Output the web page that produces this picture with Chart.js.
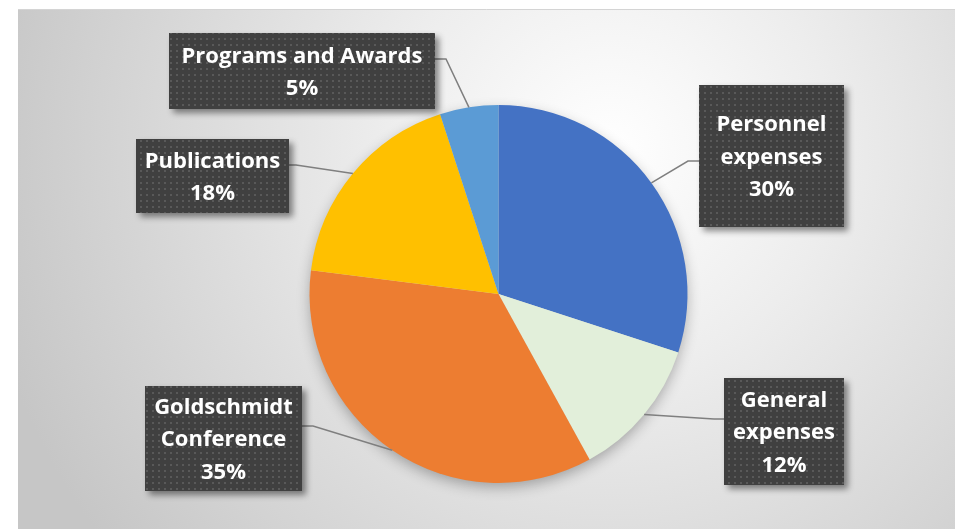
<!DOCTYPE html>
<html lang="en">
<head>
    <meta charset="UTF-8">
    <title>Budget breakdown</title>
    <script src="https://cdn.jsdelivr.net/npm/chart.js"></script>
    <style>
        body { margin: 0; background: #fff; }
        canvas { display: block; }
    </style>
</head>
<body>
    <canvas id="pieChart" width="955" height="529"></canvas>

    <script>
        // Chart data
        const categories = ['Personnel expenses', 'General expenses', 'Goldschmidt Conference', 'Publications', 'Programs and Awards'];
        const shares = [30, 12, 35, 18, 5];
        const sliceColors = ['#4472C4', '#E2EFDA', '#ED7D31', '#FFC000', '#5B9BD5'];
        // how each category name is wrapped inside its label box
        const labelLines = [['Personnel', 'expenses'], ['General', 'expenses'], ['Goldschmidt', 'Conference'], ['Publications'], ['Programs and Awards']];

        // label box layout (same order as categories)
        const boxLayout = [
            { x: 699, y: 85, w: 145, h: 142, lineY: 161, elbowX: 688, side: 'left' },
            { x: 724, y: 378, w: 120, h: 107, lineY: 419, elbowX: 714, side: 'left' },
            { x: 145, y: 386, w: 157, h: 105, lineY: 426, elbowX: 313, side: 'right' },
            { x: 136, y: 139, w: 153, h: 74, lineY: 165, elbowX: 296, side: 'right' },
            { x: 169, y: 33, w: 266, h: 76, lineY: 59, elbowX: 446, side: 'right' }
        ];

        // dotted dark fill used by the label boxes
        function makePattern(ctx) {
            const tile = document.createElement('canvas');
            tile.width = 6;
            tile.height = 6;
            const t = tile.getContext('2d');
            t.fillStyle = '#404040';
            t.fillRect(0, 0, 6, 6);
            t.fillStyle = '#595959';
            t.fillRect(2, 2, 2, 2);
            return ctx.createPattern(tile, 'repeat');
        }

        const backgroundPlugin = {
            id: 'panelBackground',
            beforeDraw(chart) {
                const ctx = chart.ctx;
                ctx.save();
                const g = ctx.createRadialGradient(610, 150, 0, 610, 150, 640);
                g.addColorStop(0, '#ffffff');
                g.addColorStop(0.35, '#ededed');
                g.addColorStop(1, '#c6c6c6');
                ctx.fillStyle = g;
                ctx.fillRect(18, 9, chart.width - 18, chart.height - 9);
                ctx.strokeStyle = '#d4d4d4';
                ctx.lineWidth = 1;
                ctx.beginPath();
                ctx.moveTo(18, 9.5);
                ctx.lineTo(chart.width, 9.5);
                ctx.stroke();
                ctx.restore();
            },
            beforeDatasetsDraw(chart) {
                // soft shadow under the pie
                const arc = chart.getDatasetMeta(0).data[0];
                if (!arc) return;
                const ctx = chart.ctx;
                ctx.save();
                ctx.shadowColor = 'rgba(0,0,0,0.3)';
                ctx.shadowBlur = 14;
                ctx.shadowOffsetY = 5;
                ctx.fillStyle = '#d0d0d0';
                ctx.beginPath();
                ctx.arc(arc.x, arc.y, arc.outerRadius - 1, 0, Math.PI * 2);
                ctx.fill();
                ctx.restore();
            }
        };

        const calloutPlugin = {
            id: 'callouts',
            afterDatasetsDraw(chart) {
                const ctx = chart.ctx;
                const meta = chart.getDatasetMeta(0);
                const pattern = makePattern(ctx);
                const total = shares.reduce((a, b) => a + b, 0);

                meta.data.forEach((arc, i) => {
                    const box = boxLayout[i];
                    const p = arc.getProps(['x', 'y', 'startAngle', 'endAngle', 'outerRadius'], true);
                    const mid = (p.startAngle + p.endAngle) / 2;
                    const ax = p.x + Math.cos(mid) * p.outerRadius;
                    const ay = p.y + Math.sin(mid) * p.outerRadius;
                    const edgeX = box.side === 'left' ? box.x : box.x + box.w;

                    // leader line
                    ctx.save();
                    ctx.strokeStyle = '#7f7f7f';
                    ctx.lineWidth = 1.5;
                    ctx.beginPath();
                    ctx.moveTo(edgeX, box.lineY);
                    ctx.lineTo(box.elbowX, box.lineY);
                    ctx.lineTo(ax, ay);
                    ctx.stroke();
                    ctx.restore();

                    // box with shadow
                    ctx.save();
                    ctx.shadowColor = 'rgba(0,0,0,0.45)';
                    ctx.shadowBlur = 6;
                    ctx.shadowOffsetX = 4;
                    ctx.shadowOffsetY = 4;
                    ctx.fillStyle = pattern;
                    ctx.fillRect(box.x, box.y, box.w, box.h);
                    ctx.restore();

                    // text
                    const lines = labelLines[i].concat([Math.round(shares[i] / total * 100) + '%']);
                    const lh = 32.5;
                    const cy = box.y + box.h / 2 + 1.5;
                    ctx.save();
                    ctx.fillStyle = '#ffffff';
                    ctx.font = 'bold 22px "Open Sans", Lato, sans-serif';
                    ctx.textAlign = 'center';
                    ctx.textBaseline = 'middle';
                    lines.forEach((line, k) => {
                        const ly = cy + (k - (lines.length - 1) / 2) * lh;
                        ctx.fillText(line, box.x + box.w / 2, ly);
                    });
                    ctx.restore();
                });
            }
        };

        const ctx = document.getElementById('pieChart').getContext('2d');
        new Chart(ctx, {
            type: 'pie',
            data: {
                labels: categories,
                datasets: [{
                    data: shares,
                    backgroundColor: sliceColors,
                    borderWidth: 0
                }]
            },
            options: {
                responsive: false,
                animation: false,
                devicePixelRatio: 1,
                layout: {
                    padding: { left: 100, right: 58, top: 105, bottom: 46 }
                },
                plugins: {
                    legend: { display: false },
                    tooltip: { enabled: false }
                }
            },
            plugins: [backgroundPlugin, calloutPlugin]
        });
    </script>
</body>
</html>
